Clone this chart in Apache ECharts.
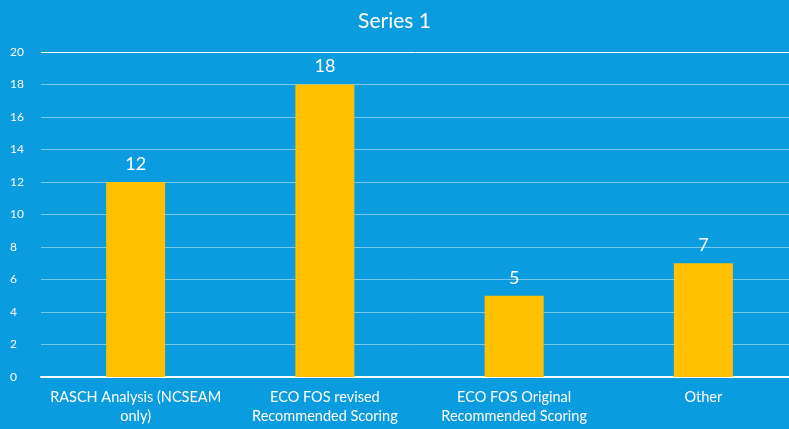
<!DOCTYPE html>
<html><head><meta charset="utf-8">
<script src="https://cdn.jsdelivr.net/npm/echarts@6/dist/echarts.min.js"></script>
<style>html,body{margin:0;padding:0;background:#0B9BDF;}#c{width:789px;height:429px;}</style>
</head><body><div id="c"></div>
<script>
const categories = ["RASCH Analysis (NCSEAM\nonly)", "ECO FOS revised\nRecommended Scoring", "ECO FOS Original\nRecommended Scoring", "Other"];
const values = [12, 18, 5, 7];
const seriesName = "Series 1";
const gridColors = ['rgba(255,255,255,0.45)','rgba(255,255,255,0.45)','rgba(255,255,255,0.45)','rgba(255,255,255,0.45)','rgba(255,255,255,0.45)','rgba(255,255,255,0.45)','rgba(255,255,255,0.45)','rgba(255,255,255,0.45)','rgba(255,255,255,0.45)','rgba(255,255,255,0.45)','rgba(255,255,255,0.95)'];
const chart = echarts.init(document.getElementById('c'));
chart.setOption({
  backgroundColor: '#0B9BDF',
  animation: false,
  title: { text: seriesName, left: 'center', top: 6, textStyle: { color: '#fff', fontFamily: 'Lato', fontWeight: 'normal', fontSize: 21 } },
  grid: { left: 41, right: -9, top: 52, bottom: 52, containLabel: false, outerBoundsMode: 'none' },
  xAxis: {
    type: 'category', data: categories,
    axisLine: { lineStyle: { color: '#fff', width: 2 } },
    axisTick: { show: false },
    axisLabel: { color: '#fff', fontFamily: 'Lato', fontSize: 14.5, lineHeight: 19, margin: 11, interval: 0 }
  },
  yAxis: {
    type: 'value', min: 0, max: 20, interval: 2,
    axisLine: { show: false }, axisTick: { show: false },
    axisLabel: { color: '#fff', fontFamily: 'Lato', fontSize: 12, margin: 31, align: 'left' },
    splitLine: { lineStyle: { color: gridColors, width: 1 } }
  },
  series: [{
    name: seriesName, type: 'bar', data: values, barWidth: 59,
    itemStyle: { color: '#FFC000' },
    label: { show: true, position: 'top', color: '#fff', fontFamily: 'Lato', fontSize: 18, distance: 9 }
  }]
});
</script></body></html>
